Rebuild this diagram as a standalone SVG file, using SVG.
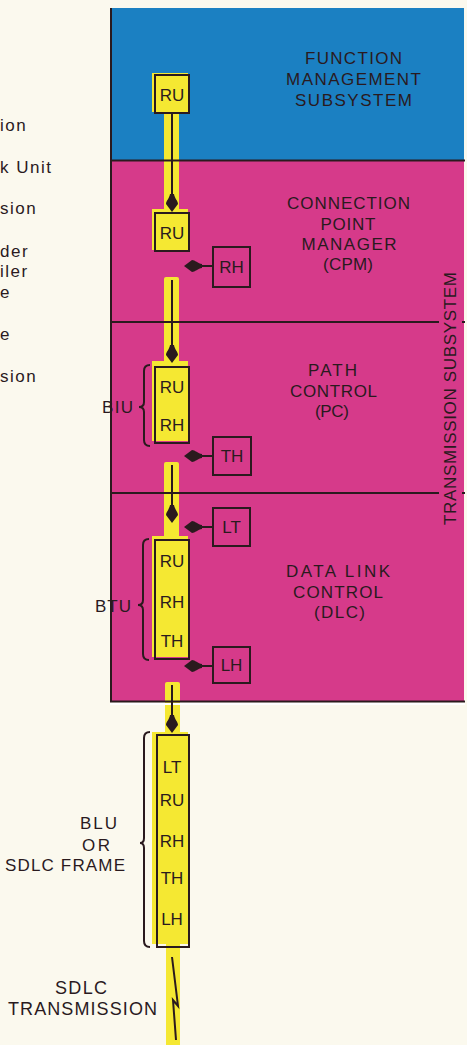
<svg xmlns="http://www.w3.org/2000/svg" width="467" height="1045" viewBox="0 0 467 1045">
<defs>
<style>
.t{font-family:"Liberation Sans",Arial,Helvetica,sans-serif;fill:#2a1a1e}
.lab{font-size:17px;text-anchor:middle}
.big{font-size:18px;text-anchor:middle}
.bx{font-size:17px;text-anchor:middle}
.leg{font-size:17px;letter-spacing:1.5px}
.box{fill:none;stroke:#2a1a1e;stroke-width:2}
.y{fill:#f5e832}
.ln{stroke:#2a1a1e;stroke-width:2;fill:none}
.ar{stroke:#2a1a1e;stroke-width:2;fill:none;marker-end:url(#ah)}
.mag{fill:#d63a8a}
</style>
<marker id="ah" viewBox="0 0 18 12" markerWidth="18" markerHeight="12" refX="15" refY="6" orient="auto" markerUnits="userSpaceOnUse">
<path d="M0,4 C4,3.5 7,0 10,0 L18,6 L10,12 C7,12 4,8.5 0,8 Z" fill="#2a1a1e"/>
</marker>
</defs>
<rect x="0" y="0" width="467" height="1045" fill="#fbf9ee"/>

<g id="legend" class="t leg">
<text x="0" y="131">ion</text>
<text x="0" y="173">k Unit</text>
<text x="0" y="214">sion</text>
<text x="0" y="257">der</text>
<text x="0" y="277">iler</text>
<text x="0" y="298">e</text>
<text x="0" y="340">e</text>
<text x="0" y="382">sion</text>
</g>

<g id="function-management">
<rect x="110" y="8" width="354" height="152" fill="#1b80c2"/>
</g>
<g id="connection-point-manager">
<rect class="mag" x="110" y="160" width="354" height="162"/>
</g>
<g id="path-control">
<rect class="mag" x="110" y="322" width="354" height="171"/>
</g>
<g id="data-link-control">
<rect class="mag" x="110" y="493" width="354" height="208"/>
</g>

<g id="yellow-path">
<rect class="y" x="164" y="110" width="15" height="102"/>
<rect class="y" x="164" y="277" width="15" height="88" rx="2"/>
<rect class="y" x="164" y="462" width="15" height="78" rx="2"/>
<rect class="y" x="165" y="682" width="15" height="55" rx="2"/>
<rect class="y" x="166" y="944" width="14" height="101"/>
</g>

<g id="boundaries">
<line class="ln" x1="111" y1="8" x2="111" y2="702"/>
<line class="ln" x1="110" y1="160.5" x2="465" y2="160.5"/>
<line class="ln" x1="110" y1="322" x2="439" y2="322"/>
<line class="ln" x1="462" y1="322" x2="465" y2="322"/>
<line class="ln" x1="110" y1="493" x2="439" y2="493"/>
<line class="ln" x1="462" y1="493" x2="465" y2="493"/>
<line class="ln" x1="110" y1="701.5" x2="465" y2="701.5"/>
<line x1="110" y1="704" x2="465" y2="704" stroke="#ffffff" stroke-width="2"/>
</g>

<g id="fm-ru">
<rect class="y" x="152" y="73" width="36" height="39"/>
<rect class="box" x="155" y="75" width="34" height="38"/>
<text class="t bx" x="172" y="101">RU</text>
</g>
<g id="cpm-ru">
<rect class="y" x="152" y="209" width="36" height="41"/>
<rect class="box" x="155" y="213" width="34" height="38"/>
<text class="t bx" x="172" y="239">RU</text>
</g>
<g id="rh">
<rect class="box" x="213" y="247" width="37" height="40"/>
<text class="t bx" x="231.5" y="273">RH</text>
</g>
<g id="biu">
<rect class="y" x="152" y="361" width="36" height="80"/>
<rect class="box" x="155" y="367" width="34" height="76"/>
<text class="t bx" x="172" y="393">RU</text>
<text class="t bx" x="172" y="431">RH</text>
<path class="ln" d="M150,365 Q144,365 144,371 L144,402 Q144,407 139,407 Q144,407 144,412 L144,440 Q144,446 150,446"/>
<text class="t lab" x="117.5" y="413" textLength="31">BIU</text>
</g>
<g id="th">
<rect class="box" x="213" y="437" width="38" height="38"/>
<text class="t bx" x="232" y="462">TH</text>
</g>
<g id="lt">
<rect class="box" x="213" y="508" width="37" height="38"/>
<text class="t bx" x="231.5" y="533">LT</text>
</g>
<g id="btu">
<rect class="y" x="152" y="536" width="36" height="121"/>
<rect class="box" x="155" y="540" width="34" height="119"/>
<text class="t bx" x="172" y="567">RU</text>
<text class="t bx" x="172" y="608">RH</text>
<text class="t bx" x="172" y="647">TH</text>
<path class="ln" d="M149,539 Q143,539 143,545 L143,600 Q143,605 138,605 Q143,605 143,610 L143,654 Q143,660 149,660"/>
<text class="t lab" x="113" y="612" textLength="36">BTU</text>
</g>
<g id="lh">
<rect class="box" x="213" y="647" width="37" height="36"/>
<text class="t bx" x="231.5" y="671">LH</text>
</g>
<g id="blu">
<rect class="y" x="152" y="732" width="36" height="212"/>
<rect class="box" x="157" y="735" width="32" height="212"/>
<text class="t bx" x="172" y="773">LT</text>
<text class="t bx" x="172" y="806">RU</text>
<text class="t bx" x="172" y="847">RH</text>
<text class="t bx" x="172" y="884">TH</text>
<text class="t bx" x="172" y="925">LH</text>
<path class="ln" d="M150,732 Q144,732 144,738 L144,838 Q144,843 140,843 Q144,843 144,848 L144,941 Q144,947 150,947"/>
<text class="t lab" x="98.5" y="829" textLength="37">BLU</text>
<text class="t lab" x="96" y="851" textLength="28">OR</text>
<text class="t lab" x="65" y="871" textLength="120">SDLC FRAME</text>
</g>
<g id="sdlc-transmission">
<path class="ln" d="M172,957 L178,1006 L173,1000 L176,1040"/>
<text class="t big" x="81" y="994" textLength="52">SDLC</text>
<text class="t big" x="82.5" y="1015" textLength="149">TRANSMISSION</text>
</g>

<g id="connectors">
<line class="ar" x1="172" y1="113" x2="172" y2="209"/>
<line class="ar" x1="172" y1="280" x2="172" y2="360"/>
<line class="ar" x1="172" y1="465" x2="172" y2="520"/>
<line class="ar" x1="172" y1="685" x2="172" y2="730"/>
<line class="ar" x1="213" y1="266" x2="187" y2="266"/>
<line class="ar" x1="213" y1="456" x2="187" y2="456"/>
<line class="ar" x1="213" y1="527" x2="187" y2="527"/>
<line class="ar" x1="213" y1="666" x2="187" y2="666"/>
</g>

<g id="labels" class="t lab">
<text x="353.5" y="63.5" textLength="97">FUNCTION</text>
<text x="353.5" y="84.5" textLength="135">MANAGEMENT</text>
<text x="353.5" y="105.5" textLength="117">SUBSYSTEM</text>
<text x="348.5" y="209" textLength="123">CONNECTION</text>
<text x="348" y="229.5" textLength="55">POINT</text>
<text x="349" y="250" textLength="95">MANAGER</text>
<text x="348" y="270" textLength="50">(CPM)</text>
<text x="332.5" y="376" textLength="49">PATH</text>
<text x="333.5" y="396.5" textLength="87">CONTROL</text>
<text x="332" y="417" textLength="34">(PC)</text>
<text x="338" y="577" textLength="104">DATA LINK</text>
<text x="338" y="598" textLength="90">CONTROL</text>
<text x="339.5" y="618" textLength="51">(DLC)</text>
<text transform="translate(456,398.5) rotate(-90)" x="0" y="0" textLength="253">TRANSMISSION SUBSYSTEM</text>
</g>
</svg>
